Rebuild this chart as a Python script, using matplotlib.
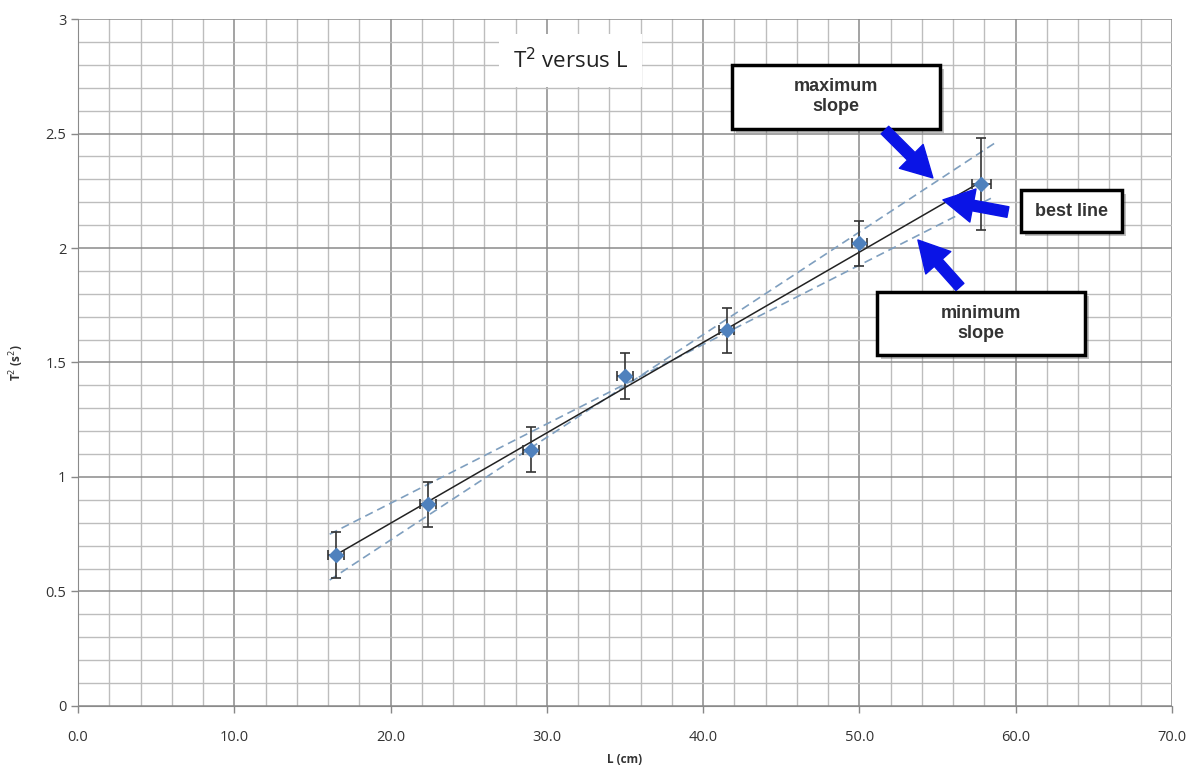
import matplotlib
matplotlib.use("Agg")
from matplotlib import pyplot as plt
from matplotlib.patches import Rectangle
import matplotlib.patheffects as pe

# measured data
L_cm = [16.5, 22.4, 29.0, 35.0, 41.5, 50.0, 57.8]
T2_s2 = [0.66, 0.88, 1.12, 1.44, 1.64, 2.02, 2.28]
L_err = [0.5, 0.5, 0.5, 0.5, 0.5, 0.5, 0.6]
T2_err = [0.1, 0.1, 0.1, 0.1, 0.1, 0.1, 0.2]

# end points of the three lines
best_L = [16.5, 57.8]
best_T2 = [0.66, 2.29]
max_L = [16.1, 58.7]
max_T2 = [0.55, 2.46]
min_L = [16.1, 58.5]
min_T2 = [0.75, 2.22]

x_ticks = [0, 10, 20, 30, 40, 50, 60, 70]
y_ticks = [0, 0.5, 1, 1.5, 2, 2.5, 3]

plt.rcParams["font.family"] = ["Open Sans", "DejaVu Sans"]

fig = plt.figure(figsize=(11.93, 7.73), dpi=100)
ax = fig.add_axes([0.0654, 0.0867, 0.917, 0.8887])

ax.set_xlim(0, 70)
ax.set_ylim(0, 3)
ax.set_xticks(x_ticks)
ax.set_xticklabels([f"{v:.1f}" for v in x_ticks], fontsize=10.5, color="#333333")
ax.set_yticks(y_ticks)
ax.set_yticklabels([f"{v:g}" for v in y_ticks], fontsize=10.5, color="#333333")
ax.set_xticks([v for v in range(0, 71, 2) if v % 10], minor=True)
ax.set_yticks([i / 10 for i in range(31) if i % 5], minor=True)
ax.tick_params(axis="both", which="major", length=5, color="#888888", width=1)
ax.tick_params(axis="x", which="major", pad=12)
ax.tick_params(axis="both", which="minor", length=0)
ax.grid(which="major", color="#8a8a8a", lw=1.1)
ax.grid(which="minor", color="#bdbdbd", lw=1.0)
ax.set_axisbelow(True)
for side in ["top", "right"]:
    ax.spines[side].set_visible(False)
for side in ["left", "bottom"]:
    ax.spines[side].set_color("#8a8a8a")

ax.set_xlabel("L (cm)", fontsize=8.5, fontweight="bold", color="#333333", labelpad=6)
ax.set_ylabel("T$^2$ (s$^2$)", fontsize=8.5, fontweight="bold", color="#333333", labelpad=14)

# lines
ax.plot(max_L, max_T2, ls="--", color="#7f9fbf", lw=1.2, dashes=(5, 3))
ax.plot(min_L, min_T2, ls="--", color="#7f9fbf", lw=1.2, dashes=(5, 3))
ax.plot(best_L, best_T2, color="#222222", lw=1.1)

ax.errorbar(L_cm, T2_s2, xerr=L_err, yerr=T2_err, fmt="D", color="#4f81bd",
            ms=7, ecolor="#333333", elinewidth=1.2, capsize=3.5, capthick=1.2, zorder=5)

# title
ax.text(31.5, 2.82, "T$^2$ versus L", fontsize=16, ha="center", va="center",
        color="#222222",
        bbox=dict(facecolor="white", edgecolor="none", pad=10))

# annotation boxes
shadow = [pe.SimplePatchShadow(offset=(3, -3), alpha=0.35), pe.Normal()]
boxes = [
    (41.84, 2.52, 13.31, 0.28, "maximum\nslope"),
    (60.33, 2.07, 6.47, 0.183, "best line"),
    (51.12, 1.533, 13.31, 0.275, "minimum\nslope"),
]
for x0, y0, w, h, label in boxes:
    r = Rectangle((x0, y0), w, h, facecolor="white", edgecolor="black", lw=2.5, zorder=6)
    r.set_path_effects(shadow)
    ax.add_patch(r)
    ax.text(x0 + w / 2, y0 + h / 2, label, ha="center", va="center", fontsize=13,
            fontweight="bold", color="#333333", linespacing=1.25, zorder=7,
            family=["Liberation Sans", "DejaVu Sans"])

# arrows
arrows = [
    ((51.63, 2.515), (54.7, 2.306)),
    ((59.5, 2.157), (55.34, 2.21)),
    ((56.43, 1.83), (53.74, 2.035)),
]
for tail, head in arrows:
    ax.annotate("", xy=head, xytext=tail, zorder=7,
                arrowprops=dict(arrowstyle="simple,head_length=1.0,head_width=1.1,tail_width=0.35",
                                color="#0a14e6", mutation_scale=22, shrinkA=0, shrinkB=0))

fig.savefig("out.png", dpi=100)
